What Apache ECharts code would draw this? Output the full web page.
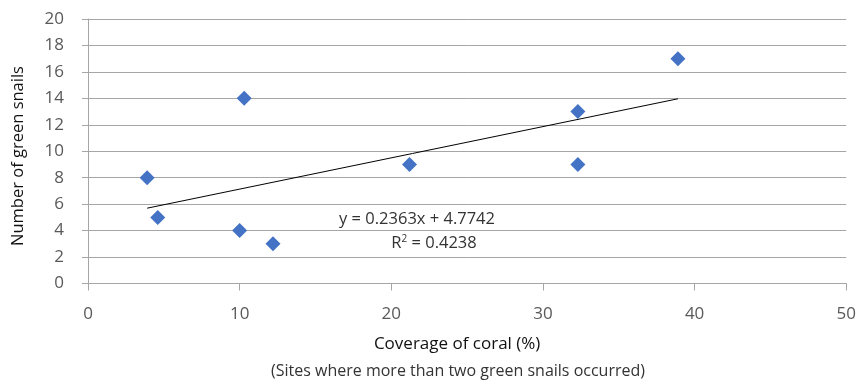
<!DOCTYPE html>
<html>
<head>
<meta charset="utf-8">
<script src="https://cdn.jsdelivr.net/npm/echarts@6/dist/echarts.min.js"></script>
<style>
html,body{margin:0;padding:0;background:#fff;}
#chart{width:859px;height:381px;}
</style>
</head>
<body>
<div id="chart"></div>
<script>
// Coral coverage (%) and green snail counts per site
const coralCoverage = [3.9, 4.6, 10.3, 10.0, 12.2, 21.2, 32.3, 32.3, 38.9];
const snailCount    = [8, 5, 14, 4, 3, 9, 13, 9, 17];

// Linear fit reported for the sites
const slope = 0.2363;
const intercept = 4.7742;
const rSquared = 0.4238;

const xTicks = [0, 10, 20, 30, 40, 50];
const yTicks = [0, 2, 4, 6, 8, 10, 12, 14, 16, 18, 20];

const points = coralCoverage.map((x, i) => [x, snailCount[i]]);
const xMin = Math.min(...coralCoverage);
const xMax = Math.max(...coralCoverage);
const trend = [[xMin, slope * xMin + intercept], [xMax, slope * xMax + intercept]];

const font = '"Open Sans", "Noto Sans", sans-serif';
const chart = echarts.init(document.getElementById('chart'));
chart.setOption({
  animation: false,
  grid: { left: 88, right: 9, top: 19, bottom: 97.5 },
  xAxis: {
    type: 'value',
    min: xTicks[0], max: xTicks[xTicks.length - 1], interval: 10,
    name: 'Coverage of coral (%)',
    nameLocation: 'middle', nameGap: 52,
    nameTextStyle: { fontFamily: font, fontSize: 17, color: '#111', padding: [0, 20, 0, 0] },
    axisLine: { lineStyle: { color: '#a6a6a6', width: 1 } },
    axisTick: { show: true, length: 7, lineStyle: { color: '#a6a6a6' } },
    axisLabel: { fontFamily: font, fontSize: 17, color: '#595959', margin: 22 },
    splitLine: { show: false }
  },
  yAxis: {
    type: 'value',
    min: yTicks[0], max: yTicks[yTicks.length - 1], interval: 2,
    axisLine: { show: true, lineStyle: { color: '#a6a6a6', width: 1 } },
    axisTick: { show: true, length: 6, lineStyle: { color: '#a6a6a6' } },
    axisLabel: { fontFamily: font, fontSize: 17, color: '#595959', margin: 24 },
    splitLine: { show: true, lineStyle: { color: '#a6a6a6', width: 1 } }
  },
  series: [
    {
      type: 'line',
      data: trend,
      symbol: 'none',
      lineStyle: { color: '#000', width: 1 },
      silent: true,
      z: 2
    },
    {
      type: 'scatter',
      data: points,
      symbol: 'diamond',
      symbolSize: 15,
      itemStyle: { color: '#4472C4', opacity: 1 },
      z: 3
    }
  ],
  graphic: [
    {
      type: 'text',
      x: 18.5, y: 156, rotation: Math.PI / 2,
      style: {
        text: 'Number of green snails',
        x: 0, y: 0, align: 'center', verticalAlign: 'middle',
        font: '16.5px ' + font, fill: '#111'
      }
    },
    {
      type: 'text',
      style: {
        text: 'y = ' + slope + 'x + ' + intercept,
        x: 417, y: 219, align: 'center', verticalAlign: 'middle',
        font: '16.5px ' + font, fill: '#333'
      }
    },
    {
      type: 'text',
      style: {
        rich: { s: { fontSize: 10, verticalAlign: 'top', fontFamily: font, fill: '#333' } },
        text: 'R{s|2} = ' + rSquared,
        x: 434, y: 243, align: 'center', verticalAlign: 'middle',
        font: '16.5px ' + font, fill: '#333'
      }
    },
    {
      type: 'text',
      style: {
        text: '(Sites where more than two green snails occurred)',
        x: 458, y: 371, align: 'center', verticalAlign: 'middle',
        font: '16px ' + font, fill: '#333'
      }
    }
  ]
});
</script>
</body>
</html>
